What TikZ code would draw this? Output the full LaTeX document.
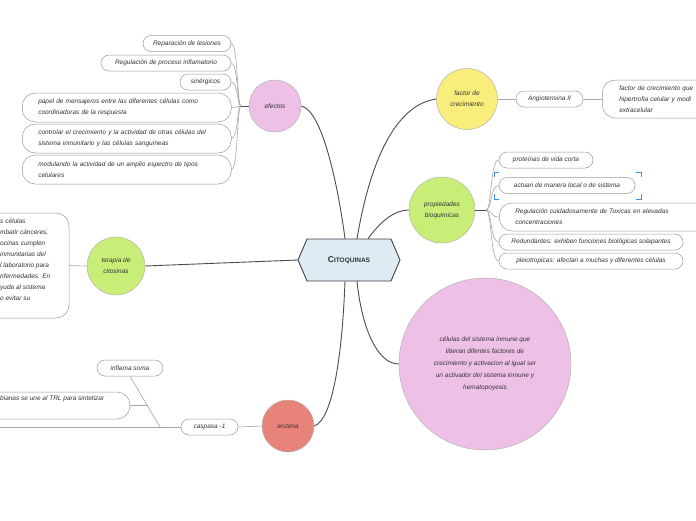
\documentclass[tikz,border=0pt]{standalone}
\usepackage{fontspec}
\setmainfont{Liberation Sans}
\definecolor{pinkc}{HTML}{EFC0E6}
\definecolor{greenc}{HTML}{C8EE78}
\definecolor{redc}{HTML}{E8837A}
\definecolor{yellowc}{HTML}{F9ED7B}
\definecolor{hexblue}{HTML}{DDEBF3}
\definecolor{selblue}{HTML}{3D8FEA}
\begin{document}
\begin{tikzpicture}[x=1pt,y=-1pt,
  every node/.style={font=\fontsize{6.5}{11}\selectfont\itshape, text=black!80},
  pill/.style={draw=black!40, line width=0.5pt, rounded corners=8pt, minimum height=16pt, inner sep=0pt, fill=white},
  box/.style={draw=black!40, line width=0.5pt, rounded corners=13pt, inner xsep=16pt, inner ysep=0pt, align=left, fill=white},
  bub/.style={circle, draw=black!30, line width=0.5pt, inner sep=0pt, align=center},
  main/.style={draw=black!70, line width=0.9pt},
  sub/.style={draw=black!35, line width=0.6pt},
]
\useasboundingbox (0,0) rectangle (696,520);

% ---------- central hexagon ----------
\draw[fill=hexblue, draw=black!75, line width=0.9pt]
  (298,260) -- (307,239) -- (391,239) -- (400,260) -- (391,281) -- (307,281) -- cycle;
\node[minimum width=102pt, minimum height=42pt, inner sep=0pt] (hub) at (349,260)
  {\upshape\bfseries\fontsize{8.5}{9}\selectfont C\fontsize{6.5}{9}\selectfont ITOQUINAS};

% ---------- main bubbles ----------
\node[bub, fill=pinkc, minimum size=52pt] (efectos) at (275,106) {efectos};
\node[bub, fill=greenc, minimum size=58pt] (terapia) at (116,266) {terapia de\\citosinas};
\node[bub, fill=redc, minimum size=52pt] (enzima) at (288,426) {enzima};
\node[bub, fill=yellowc, minimum size=61pt] (factor) at (467,99) {factor de\\crecimiento};
\node[bub, fill=greenc, minimum size=66pt] (prop) at (442,210) {propiedades\\bioquimicas};
\node[bub, fill=pinkc, minimum size=172pt, font=\fontsize{6.5}{12}\selectfont\itshape] (big) at (485,364) {c\'elulas del sistema inmune que\\liberan difentes factores de\\crecimiento y activacion al igual ser\\un activador del sistema inmune y\\hematopoyesis};

% ---------- main connectors ----------
\draw[main] (efectos.east) .. controls (322,110) and (338,185) .. ([xshift=-4pt]hub.north);
\draw[main] ([xshift=8pt]hub.north) .. controls (372,150) and (400,104) .. (factor.west);
\draw[main] ([xshift=19pt]hub.north) .. controls (380,222) and (394,210) .. (prop.west);
\draw[main] ([xshift=8pt]hub.south) .. controls (362,330) and (378,364) .. (big.west);
\draw[main] ([xshift=-4pt]hub.south) .. controls (342,360) and (332,420) .. (enzima.east);
\draw[main] (terapia.east) -- (hub.west);

% ---------- efectos children ----------
\node[pill, minimum width=88pt] (e1) at (187,43.5) {Reparaci\'on de lesiones};
\node[pill, minimum width=130pt] (e2) at (166,63) {Regulaci\'on de proceso inflamatorio};
\node[pill, minimum width=51pt] (e3) at (205.5,82) {sin\'ergicos};
\node[box, text width=177pt, minimum height=29pt, anchor=west] (e4) at (22,107.5)
  {papel de mensajeros entre las diferentes c\'elulas como\\coordinadoras de la respuesta};
\node[box, text width=177pt, minimum height=29pt, anchor=west] (e5) at (22,138.5)
  {controlar el crecimiento y la actividad de otras c\'elulas del\\sistema inmunitario y las c\'elulas sangu\'ineas};
\node[box, text width=177pt, minimum height=29pt, anchor=west] (e6) at (22,169.5)
  {modulando la actividad de un amplio espectro de tipos\\celulares};
\coordinate (ej) at (241,106);
\draw[main, line width=0.7pt] (efectos.west) -- (ej);
\foreach \c in {e1,e2,e3,e4,e5,e6}{
  \draw[sub] (ej) .. controls (237,106) and (238,0|-\c.east) .. (\c.east);
}

% ---------- terapia children ----------
\node[box, minimum width=219pt, minimum height=105pt, inner sep=0pt] (tbox) at (-40.5,265.5) {};
\node[anchor=west, align=left, inner sep=0pt] (ttext) at (0,260)
  {s c\'elulas\\mbatir c\'anceres,\\ocinas cumplen\\ inmunitarias del\\l laboratorio para\\nfermedades. En\\yuda al sistema\\ o evitar su};
\draw[sub] (tbox.east) -- (terapia.west);

% ---------- enzima children ----------
\node[pill, minimum width=57pt] (casp) at (209.5,427) {caspasa -1};
\node[pill, minimum width=66pt] (infl) at (130,368) {inflama soma};
\node[box, minimum width=230pt, minimum height=27pt, inner sep=0pt] (trl) at (15,405.5) {};
\node[anchor=west, inner sep=0pt] (trltext) at (0,399) {bianas se une al TRL para sintetizar};
\coordinate (cj) at (160,427);
\coordinate (cfar) at (0,427);
\coordinate (tj) at (147.5,405.5);
\draw[sub] (casp.east) -- (enzima.west);
\draw[sub] (casp.west) -- (cfar);
\draw[sub] (infl.south) -- (cj);
\draw[sub] (trl.east) -- (tj);

% ---------- factor children ----------
\node[pill, minimum width=67pt] (angio) at (549.5,99) {Angiotensina II};
\node[box, text width=160pt, minimum height=38pt, inner xsep=17pt, anchor=west] (fbox) at (602,99)
  {factor de crecimiento que\\hipertrofia celular y modi\\extracelular};
\draw[sub] (factor.east) -- (angio.west);
\draw[sub] (angio.east) -- (fbox.west);

% ---------- propiedades children ----------
\node[pill, minimum width=94pt] (p1) at (546,160) {prote\'inas de vida corta};
\node[pill, minimum width=136pt] (p2) at (567,185.5) {actuan de manera local o de sistema};
\node[box, text width=250pt, minimum height=28pt, anchor=west] (p3) at (499,217)
  {Regulaci\'on cuidadosamente de Toxicas en elevadas\\concentraciones};
\node[pill, minimum width=184pt] (p4) at (591,242) {Redundantes: exhiben funciones biol\'ogicas solapantes};
\node[pill, minimum width=184pt] (p5) at (591,261) {pleiotropicas: afectan a muchas y diferentes c\'elulas};
\coordinate (pj) at (486,210);
\draw[main, line width=0.7pt] (prop.east) -- (pj);
\foreach \c in {p1,p2,p3,p4,p5}{
  \draw[sub] (pj) .. controls (492,210) and (490,0|-\c.west) .. (\c.west);
}

% selection brackets
\draw[selblue, line width=0.9pt] (494,177) -- (494,172) -- (499,172);
\draw[selblue, line width=0.9pt] (636,172) -- (641,172) -- (641,177);
\draw[selblue, line width=0.9pt] (494,194) -- (494,199) -- (499,199);
\draw[selblue, line width=0.9pt] (636,199) -- (641,199) -- (641,194);
\end{tikzpicture}
\end{document}
